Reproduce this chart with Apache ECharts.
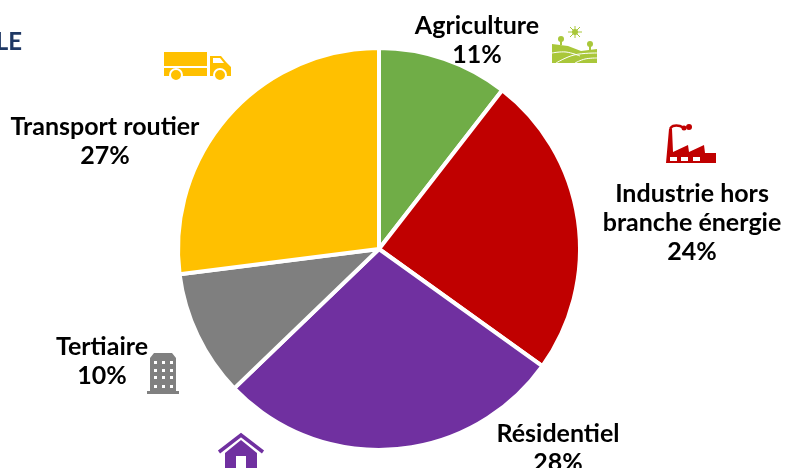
<!DOCTYPE html>
<html><head><meta charset="utf-8">
<style>html,body{margin:0;padding:0;background:#fff}#c{width:802px;height:468px}</style>
<script src="https://cdn.jsdelivr.net/npm/echarts@6/dist/echarts.min.js"></script></head>
<body><div id="c"></div>
<script>
const categories = ['Agriculture', 'Industrie hors\nbranche énergie', 'Résidentiel', 'Tertiaire', 'Transport routier'];
const values = [10.5, 24.4, 27.9, 10.2, 27];
const colors = ['#70AD47', '#C00000', '#7030A0', '#7F7F7F', '#FFC000'];
const labelSpots = [[477, 40], [692, 223], [558, 448], [102, 361], [105, 141]];
const font = 'Lato';

const chart = echarts.init(document.getElementById('c'), null, {renderer: 'canvas'});
const rect = (x, y, w, h, fill) => ({type: 'rect', shape: {x, y, width: w, height: h}, style: {fill}, silent: true});
const poly = (points, fill) => ({type: 'polygon', shape: {points}, style: {fill}, silent: true});
const circle = (cx, cy, r, fill, stroke) => ({type: 'circle', shape: {cx, cy, r}, style: {fill, stroke: stroke || null, lineWidth: stroke ? 2 : 0}, silent: true});
const line = (pts, stroke, w, smooth) => ({type: 'polyline', shape: {points: pts, smooth: smooth || 0}, style: {stroke, lineWidth: w, fill: null}, silent: true});

const Y = '#FFC000', R = '#C00000', G = '#808080', P = '#7030A0', A = '#A9C73A', W = '#fff';
const truck = [
  rect(164, 52, 43, 14, Y), rect(164, 68, 43, 8, Y),
  poly([[210, 56], [221, 56], [226, 62], [231, 67], [231, 76], [210, 76]], Y),
  poly([[213, 58], [220, 58], [224, 63], [213, 63]], W),
  circle(176, 75, 6, Y, W), circle(220, 75, 6, Y, W)
];
const factory = [
  poly([[666, 163], [669, 129], [672, 129], [673, 152], [688, 145], [689, 152], [704, 145], [705, 153], [716, 153], [716, 163]], R),
  line([[670, 129], [673, 126], [680, 126], [685, 129]], R, 2.5, 0.4),
  circle(684, 128, 2.5, R), circle(689, 127, 3, R),
  rect(670, 157, 7, 4, W), rect(681, 157, 7, 4, W), rect(693, 157, 7, 4, W)
];
const farm = [
  circle(575, 32, 3, A),
  line([[568, 32], [582, 32]], A, 1), line([[575, 26], [575, 38]], A, 1),
  line([[570, 27], [580, 37]], A, 1), line([[580, 27], [570, 37]], A, 1),
  poly([[552, 44], [568, 46], [581, 51], [597, 49], [597, 63], [552, 63]], A),
  rect(560, 37, 2, 8, A), circle(561, 39, 3, A),
  rect(589, 42, 2, 8, A), circle(590, 44, 3, A),
  line([[552, 53], [566, 52], [580, 56]], W, 1, 0.4),
  line([[556, 63], [574, 55], [597, 53]], W, 1, 0.4),
  line([[575, 63], [585, 59], [597, 58]], W, 1, 0.4)
];
const building = [
  poly([[150, 358], [154, 353], [172, 353], [176, 358], [176, 391], [179, 391], [179, 394], [147, 394], [147, 391], [150, 391]], G)
];
[361, 369, 376, 385].forEach(y => [154, 162, 170].forEach(x => building.push(rect(x, y, 3, 3, W))));
const house = [
  line([[219, 452], [241, 435], [263, 452]], P, 3.5),
  poly([[225, 453], [241, 440], [257, 453], [257, 468], [246, 468], [246, 456], [236, 456], [236, 468], [225, 468]], P)
];

chart.setOption({
  animation: false,
  backgroundColor: '#fff',
  color: colors,
  graphic: [
    {type: 'text', x: 22, y: 42, silent: true, style: {text: 'LE', align: 'right', verticalAlign: 'middle', fill: '#1F3864', font: 'bold 24px ' + font}},
    ...truck, ...factory, ...farm, ...building, ...house
  ],
  series: [{
    type: 'pie',
    center: [379, 249],
    radius: [0, 201],
    startAngle: 90,
    clockwise: true,
    silent: true,
    data: categories.map((name, i) => ({name, value: values[i]})),
    itemStyle: {borderColor: '#fff', borderWidth: 4},
    labelLine: {show: false},
    label: {
      show: true,
      position: 'outside',
      overflow: 'none',
      width: 300,
      formatter: p => p.name + '\n' + Math.round(p.percent) + '%',
      fontFamily: font, fontWeight: 'bold', fontSize: 25, lineHeight: 29,
      color: '#000', align: 'center'
    },
    labelLayout: p => {
      const s = labelSpots[p.dataIndex];
      return {x: s[0], y: s[1], align: 'center', verticalAlign: 'middle', hideOverlap: false};
    }
  }]
});
</script></body></html>
